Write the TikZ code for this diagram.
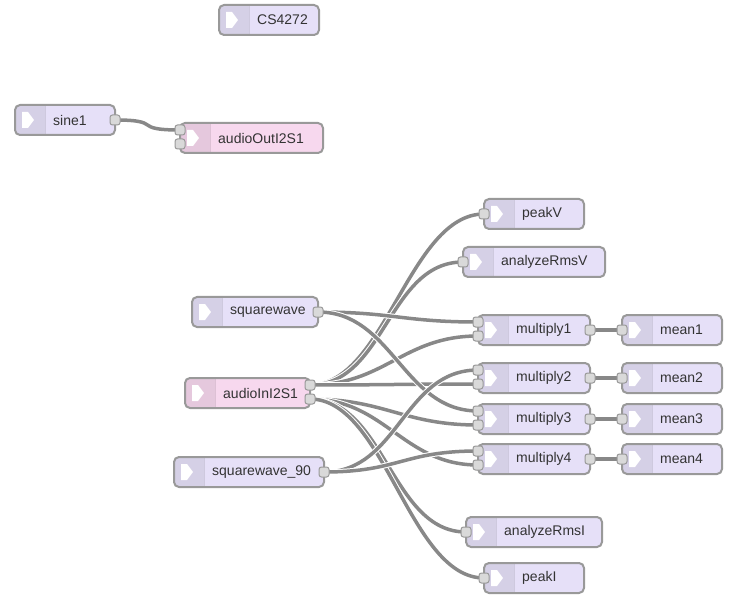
\documentclass[tikz,border=0pt]{standalone}
\usepackage{fontspec}
\setmainfont{Liberation Sans}
\usetikzlibrary{calc}
\usetikzlibrary{backgrounds}

\definecolor{lav}{HTML}{E6E0F8}
\definecolor{pinkbox}{HTML}{F7D8EE}
\definecolor{edge}{HTML}{999999}
\definecolor{portfill}{HTML}{D9D9D9}
\definecolor{wiregrey}{HTML}{888888}
\definecolor{txt}{HTML}{333333}

\begin{document}
\begin{tikzpicture}[
  x=1pt, y=-1pt,
  abox/.style={draw=edge, line width=2pt, rounded corners=5pt, fill=lav,
    minimum height=30pt, minimum width=#1, inner sep=0pt, outer sep=0pt,
    anchor=north west,
    path picture={
      \fill[black, opacity=.07, sharp corners] (path picture bounding box.north west)
        rectangle ([xshift=30pt]path picture bounding box.south west);
      \draw[black, opacity=.1, line width=1pt] ([xshift=30pt]path picture bounding box.north west)
        -- ([xshift=30pt]path picture bounding box.south west);
      \fill[white, sharp corners] ([xshift=7pt,yshift=8pt]path picture bounding box.west)
        -- ++(6,0) -- ++(6,8) -- ++(-6,8) -- ++(-6,0) -- cycle;
    }},
  pbox/.style={abox=#1, fill=pinkbox},
  name text/.style={label={[anchor=west, xshift=38pt, inner sep=0pt,
    font=\fontsize{14}{16}\selectfont, text=txt]west:#1}},
  port/.style={draw=edge, line width=1pt, fill=portfill, rounded corners=2.5pt,
    minimum size=10pt, inner sep=0pt},
  wire/.style={draw=wiregrey, line width=3.5pt, preaction={draw=white, line width=5.5pt}}]

  \useasboundingbox (0,0) rectangle (730,601);

  % Boxes
  \node[abox=100pt, name text=CS4272] (cs) at (219,5) {};
  \node[abox=100pt, name text=sine1] (sine1) at (15,105) {};
  \node[pbox=143pt, name text=audioOutI2S1] (i2sout) at (180,123) {};
  \node[abox=100pt, name text=peakV] (peakV) at (484,199) {};
  \node[abox=142pt, name text=analyzeRmsV] (rmsV) at (463,247) {};
  \node[abox=126pt, name text=squarewave] (sq) at (192,297) {};
  \node[pbox=125pt, name text=audioInI2S1] (i2sin) at (185,378) {};
  \node[abox=150pt, name text=squarewave\_90] (sq90) at (174,457) {};
  \node[abox=136pt, name text=analyzeRmsI] (rmsI) at (466,517) {};
  \node[abox=100pt, name text=peakI] (peakI) at (484,563) {};
  \foreach \n/\y in {1/315,2/363,3/404,4/444} {
    \node[abox=112pt, name text=multiply\n] (mult\n) at (478,\y) {};
    \node[abox=100pt, name text=mean\n] (mean\n) at (622,\y) {};
    \node[port] (mult\n-i0) at ($(mult\n.north west)+(0,7)$) {};
    \node[port] (mult\n-i1) at ($(mult\n.north west)+(0,21)$) {};
    \node[port] (mult\n-o) at ($(mult\n.north east)+(0,15)$) {};
    \node[port] (mean\n-i) at ($(mean\n.north west)+(0,15)$) {};
  }

  % Ports
  \node[port] (sine1-o) at ($(sine1.north east)+(0,15)$) {};
  \node[port] (i2sout-i0) at ($(i2sout.north west)+(0,7)$) {};
  \node[port] (i2sout-i1) at ($(i2sout.north west)+(0,21)$) {};
  \node[port] (peakV-i) at ($(peakV.north west)+(0,15)$) {};
  \node[port] (rmsV-i) at ($(rmsV.north west)+(0,15)$) {};
  \node[port] (sq-o) at ($(sq.north east)+(0,15)$) {};
  \node[port] (i2sin-o0) at ($(i2sin.north east)+(0,7)$) {};
  \node[port] (i2sin-o1) at ($(i2sin.north east)+(0,21)$) {};
  \node[port] (sq90-o) at ($(sq90.north east)+(0,15)$) {};
  \node[port] (rmsI-i) at ($(rmsI.north west)+(0,15)$) {};
  \node[port] (peakI-i) at ($(peakI.north west)+(0,15)$) {};

  % Wires, under the boxes
  \begin{scope}[on background layer]
    \draw[wire] (sine1-o.center) .. controls +(50,0) and +(-50,0) .. (i2sout-i0.center);
    \foreach \t in {peakV-i,rmsV-i,mult1-i1,mult2-i1}
      \draw[wire] (i2sin-o0.center) .. controls +(75,0) and +(-75,0) .. (\t.center);
    \foreach \t in {mult3-i1,mult4-i1,rmsI-i,peakI-i}
      \draw[wire] (i2sin-o1.center) .. controls +(75,0) and +(-75,0) .. (\t.center);
    \foreach \t in {mult1-i0,mult3-i0}
      \draw[wire] (sq-o.center) .. controls +(75,0) and +(-75,0) .. (\t.center);
    \foreach \t in {mult2-i0,mult4-i0}
      \draw[wire] (sq90-o.center) .. controls +(75,0) and +(-75,0) .. (\t.center);
    \foreach \n in {1,...,4}
      \draw[wire] (mult\n-o.center) -- (mean\n-i.center);
  \end{scope}
\end{tikzpicture}
\end{document}
